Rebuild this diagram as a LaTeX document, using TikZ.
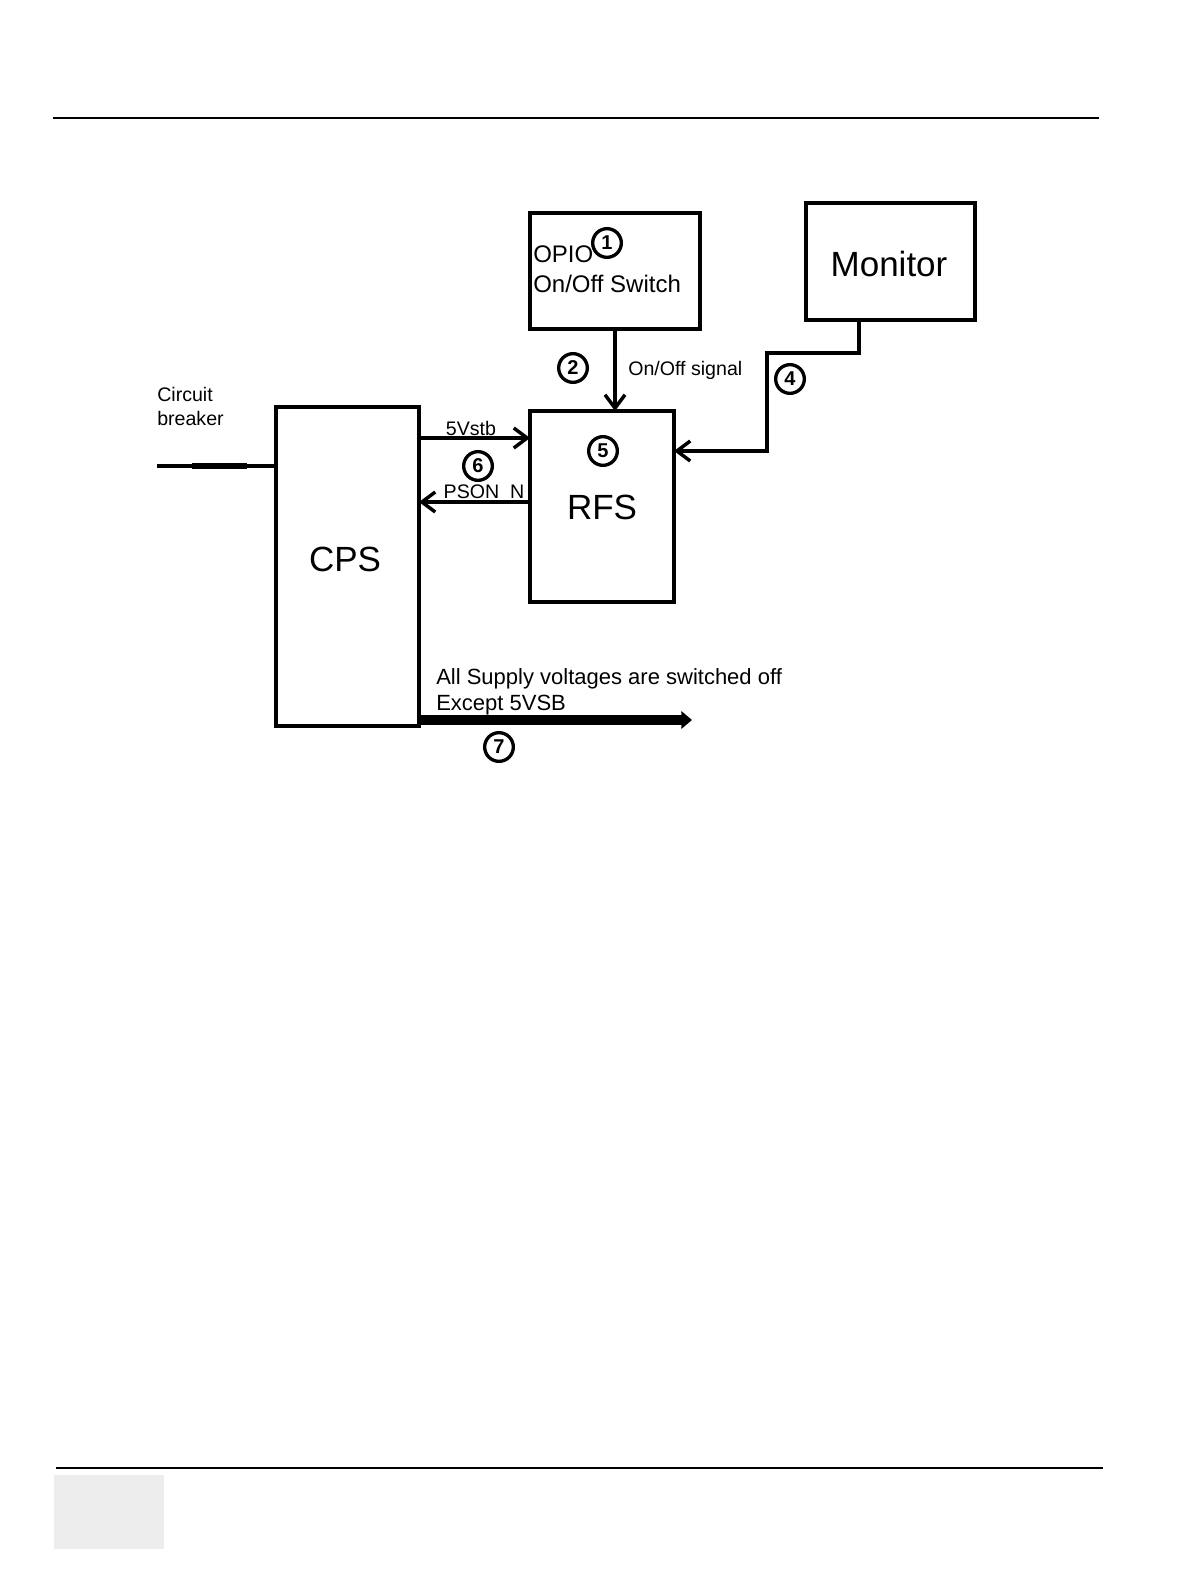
\documentclass[tikz,border=0pt]{standalone}
\usepackage{fontspec}
\setmainfont{Liberation Sans}
\usetikzlibrary{arrows.meta}
\tikzset{
  box/.style={draw, line width=2.9pt, inner sep=0pt, outer sep=0pt},
  circnum/.style={circle, draw, line width=2.5pt, minimum size=21.5pt, inner sep=0pt, font=\bfseries\fontsize{15}{15}\selectfont},
  arr/.style={line width=2.6pt, -{Straight Barb[length=10pt,width=15pt]}},
  bigarr/.style={line width=6.8pt, -{Triangle[length=8pt,width=13pt]}},
  lbl/.style={inner sep=0pt, font=\fontsize{14.7}{18}\selectfont},
  biglbl/.style={inner sep=0pt, font=\fontsize{26.25}{30}\selectfont},
  midlbl/.style={inner sep=0pt, font=\fontsize{18}{22}\selectfont},
  vlbl/.style={inner sep=0pt, font=\fontsize{16.5}{20}\selectfont},
  rule/.style={line width=1.5pt}
}
\begin{document}
\begin{tikzpicture}[x=0.75pt,y=-0.75pt]
\useasboundingbox (0,0) rectangle (1190,1584);
% page rules
\coordinate (tl) at (53,118); \coordinate (tr) at (1099,118);
\draw[rule] (tl) -- (tr);
\coordinate (bl) at (56,1468); \coordinate (br) at (1103,1468);
\draw[rule] (bl) -- (br);
\fill[black!7] (54,1475) rectangle (164,1549);

% boxes
\node[box, minimum width=127.5pt, minimum height=87pt] (opio) at (615,271) {};
\node[box, minimum width=126.75pt, minimum height=87.75pt] (monitor) at (890.5,261.5) {};
\node[box, minimum width=108pt, minimum height=143.25pt] (rfs) at (602,506.5) {};
\node[box, minimum width=107.25pt, minimum height=239.25pt] (cps) at (347.5,566.5) {};

% box texts
\node[midlbl, anchor=west] (opiot) at (533,254) {OPIO};
\node[midlbl, anchor=west] (opios) at (533,284) {On/Off Switch};
\node[biglbl] (monitort) at (889,264) {Monitor};
\node[biglbl] (rfst) at (602,507) {RFS};
\node[biglbl] (cpst) at (345,559) {CPS};

% circled numbers
\node[circnum] (c1) at (607,243) {1};
\node[circnum] (c2) at (573,368) {2};
\node[circnum] (c4) at (790,379) {4};
\node[circnum] (c5) at (603,451) {5};
\node[circnum] (c6) at (478,466) {6};
\node[circnum] (c7) at (499,747) {7};

% circuit breaker
\node[lbl, anchor=west, align=left] (cbt) at (157,406) {Circuit\\breaker};
\coordinate (cb) at (157,466);
\draw[line width=2.4pt] (cb) -- (cps.west |- cb);
\draw[line width=4pt] (192,466) -- (247,466);

% OPIO -> RFS
\draw[arr] (opio.south) -- (opio.south |- rfs.north);
\node[lbl, anchor=west] (onoff) at (628,370) {On/Off signal};

% Monitor -> RFS
\coordinate (mA) at (859,320);
\coordinate (mB) at (767,451);
\draw[arr] (mA) -- (mA |- 0,353) -| (mB) -- (mB -| rfs.east);

% CPS <-> RFS
\draw[arr] (cps.east |- 0,438) -- (rfs.west |- 0,438);
\node[lbl] (vstb) at (471,428) {5Vstb};
\draw[arr] (rfs.west |- 0,502) -- (cps.east |- 0,502);
\node[lbl] (pson) at (484,494) {PSON\_N};

% output
\coordinate (out7) at (692,720);
\draw[bigarr] (cps.east |- out7) -- (out7);
\node[vlbl, anchor=west] (allt) at (436,679) {All Supply voltages are switched off};
\node[vlbl, anchor=west] (exct) at (436,705) {Except 5VSB};
\end{tikzpicture}
\end{document}
